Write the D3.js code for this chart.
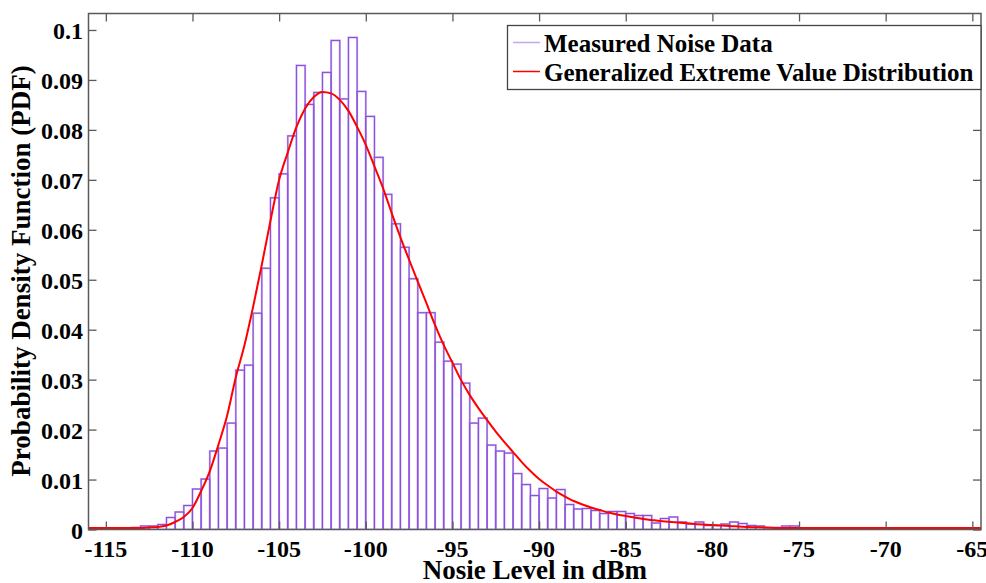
<!DOCTYPE html>
<html>
<head>
<meta charset="utf-8">
<script src="https://cdn.jsdelivr.net/npm/d3@7"></script>
<style>
  body { margin: 0; background: #fff; }
  svg text { font-family: "Liberation Serif", "Times New Roman", serif; font-weight: bold; fill: #000; }
</style>
</head>
<body>
<div id="chartDiv"></div>
<script>
// histogram: bins of 0.5 dB, first bin starts at -114
let binStart = -114;
let binWidth = 0.5;
let binDensity = [
  0.0001, 0.0004, 0.0007, 0.0007, 0.0010, 0.0024, 0.0035, 0.0048, 0.0081, 0.0101,
  0.0157, 0.0163, 0.0213, 0.0319, 0.0329, 0.0433, 0.0523, 0.0664, 0.0712, 0.0788,
  0.0929, 0.0851, 0.0875, 0.0915, 0.0979, 0.0862, 0.0985, 0.0877, 0.0827, 0.0745,
  0.0671, 0.0612, 0.0565, 0.0502, 0.0434, 0.0434, 0.0375, 0.0337, 0.0331, 0.0293,
  0.0213, 0.0223, 0.0169, 0.0157, 0.0153, 0.0112, 0.0090, 0.0068, 0.0082, 0.0063,
  0.0080, 0.0050, 0.0041, 0.0042, 0.0038, 0.0032, 0.0036, 0.0036, 0.0032, 0.0028,
  0.0028, 0.0013, 0.0022, 0.0025, 0.0015, 0.0011, 0.0015, 0.0008, 0.0008, 0.0011,
  0.0015, 0.0012, 0.0008, 0.0007, 0.0004, 0.0004, 0.0007, 0.0007, 0.0001, 0.0001,
  0.0001, 0.0001, 0.0001, 0.0001, 0.0001, 0.0001, 0.0001, 0.0001, 0.0001, 0.0001,
  0.0001, 0.0001, 0.0001, 0.0001, 0.0001, 0.0001, 0.0001, 0.0001
];

// fitted GEV curve
let gevX = [
  -116, -113, -112.5, -112, -111.5, -111, -110.5, -110, -109.5, -109,
  -108.5, -108, -107.5, -107, -106.5, -106, -105.5, -105, -104.5, -104,
  -103.5, -103, -102.5, -102, -101.5, -101, -100.5, -100, -99.5, -99,
  -98.5, -98, -97.5, -97, -96.5, -96, -95.5, -95, -94.5, -94,
  -93.5, -93, -92.5, -92, -91.5, -91, -90.5, -90, -89.5, -89,
  -88.5, -88, -87.5, -87, -86.5, -86, -85.5, -85, -84.5, -84,
  -83.5, -83, -82, -81, -80, -79, -78, -77, -76, -64.5
];
let gevY = [
  0.0003, 0.0003, 0.0004, 0.0005, 0.0008, 0.0015, 0.0025, 0.0043, 0.0077, 0.0117,
  0.0170, 0.0228, 0.0305, 0.0369, 0.0446, 0.0530, 0.0618, 0.0700, 0.0755, 0.0806,
  0.0843, 0.0866, 0.0876, 0.0873, 0.0860, 0.0838, 0.0806, 0.0770, 0.0727, 0.0683,
  0.0633, 0.0585, 0.0540, 0.0496, 0.0453, 0.0409, 0.0369, 0.0334, 0.0299, 0.0269,
  0.0243, 0.0219, 0.0196, 0.0175, 0.0155, 0.0135, 0.0117, 0.0101, 0.0088, 0.0076,
  0.0066, 0.0057, 0.0050, 0.0044, 0.0039, 0.0034, 0.0030, 0.0027, 0.0024, 0.0021,
  0.0019, 0.0017, 0.0014, 0.0011, 0.0009, 0.0007, 0.0005, 0.0004, 0.0003, 0.0003
];

let xTicks = [-115, -110, -105, -100, -95, -90, -85, -80, -75, -70, -65];
let yTicks = [0, 0.01, 0.02, 0.03, 0.04, 0.05, 0.06, 0.07, 0.08, 0.09, 0.1];
let legendLabels = ["Measured Noise Data", "Generalized Extreme Value Distribution"];

let W = 986, H = 583;
let plotLeft = 88.5, plotRight = 981, plotTop = 13.5, plotBottom = 529.5;

let svg = d3.select("#chartDiv").append("svg")
  .attr("width", W).attr("height", H);

let xScale = d3.scaleLinear().domain([-116, -64.5]).range([plotLeft, plotRight]);
let yScale = d3.scaleLinear().domain([0, 0.1033]).range([plotBottom, plotTop]);

svg.append("clipPath").attr("id", "plotClip")
  .append("rect")
  .attr("x", plotLeft).attr("y", plotTop)
  .attr("width", plotRight - plotLeft).attr("height", plotBottom - plotTop);

let plotG = svg.append("g").attr("clip-path", "url(#plotClip)");

// bars
let bins = binDensity.map(function(d, i) {
  return { x0: binStart + i * binWidth, x1: binStart + (i + 1) * binWidth, y: d };
});

plotG.selectAll(".barLight")
  .data(bins)
  .enter().append("rect")
  .attr("class", "barLight")
  .attr("x", function(d) { return xScale(d.x0); })
  .attr("y", function(d) { return yScale(d.y); })
  .attr("width", function(d) { return xScale(d.x1) - xScale(d.x0); })
  .attr("height", function(d) { return yScale(0) - yScale(d.y); })
  .attr("fill", "#fff")
  .attr("stroke", "#c4a6ee")
  .attr("stroke-width", 2);

plotG.selectAll(".barDark")
  .data(bins)
  .enter().append("rect")
  .attr("class", "barDark")
  .attr("x", function(d) { return xScale(d.x0); })
  .attr("y", function(d) { return yScale(d.y); })
  .attr("width", function(d) { return xScale(d.x1) - xScale(d.x0); })
  .attr("height", function(d) { return yScale(0) - yScale(d.y); })
  .attr("fill", "none")
  .attr("stroke", "#8a4fdc")
  .attr("stroke-width", 1);

// GEV curve
let gevLine = d3.line()
  .x(function(d) { return xScale(d[0]); })
  .y(function(d) { return yScale(d[1]); })
  .curve(d3.curveMonotoneX);

plotG.append("path")
  .datum(gevX.map(function(x, i) { return [x, gevY[i]]; }))
  .attr("d", gevLine)
  .attr("fill", "none")
  .attr("stroke", "#ff0000")
  .attr("stroke-width", 2);

// axes box + inward ticks on all four sides
let axisColor = "#5a5a5a";
let tickLen = 8;

let xAxisBottom = d3.axisBottom(xScale).tickValues(xTicks).tickSizeInner(-tickLen).tickSizeOuter(0).tickFormat("");
let xAxisTop = d3.axisTop(xScale).tickValues(xTicks).tickSizeInner(-tickLen).tickSizeOuter(0).tickFormat("");
let yAxisLeft = d3.axisLeft(yScale).tickValues(yTicks).tickSizeInner(-tickLen).tickSizeOuter(0).tickFormat("");
let yAxisRight = d3.axisRight(yScale).tickValues(yTicks).tickSizeInner(-tickLen).tickSizeOuter(0).tickFormat("");

let axes = [
  [xAxisBottom, "translate(0," + plotBottom + ")"],
  [xAxisTop, "translate(0," + plotTop + ")"],
  [yAxisLeft, "translate(" + plotLeft + ",0)"],
  [yAxisRight, "translate(" + plotRight + ",0)"]
];
axes.forEach(function(a) {
  let g = svg.append("g").attr("transform", a[1]).call(a[0]);
  g.select(".domain").remove();
  g.selectAll("line").attr("stroke", axisColor).attr("stroke-width", 1.3);
});

svg.append("rect")
  .attr("x", plotLeft).attr("y", plotTop)
  .attr("width", plotRight - plotLeft).attr("height", plotBottom - plotTop)
  .attr("fill", "none")
  .attr("stroke", axisColor)
  .attr("stroke-width", 1.5);

// tick labels
svg.selectAll(".xLabel")
  .data(xTicks)
  .enter().append("text")
  .attr("class", "xLabel")
  .attr("x", function(d) { return xScale(d); })
  .attr("y", 556.5)
  .attr("text-anchor", "middle")
  .style("font-size", "24px")
  .text(function(d) { return d; });

svg.selectAll(".yLabel")
  .data(yTicks)
  .enter().append("text")
  .attr("class", "yLabel")
  .attr("x", 83)
  .attr("y", function(d) { return yScale(d) + 9; })
  .attr("text-anchor", "end")
  .style("font-size", "24px")
  .text(function(d) { return d; });

// axis titles
svg.append("text")
  .attr("x", 535)
  .attr("y", 579)
  .attr("text-anchor", "middle")
  .style("font-size", "27px")
  .text("Nosie Level in dBm");

svg.append("text")
  .attr("transform", "translate(30," + 271 + ") rotate(-90)")
  .attr("text-anchor", "middle")
  .style("font-size", "27px")
  .text("Probability Density Function (PDF)");

// legend
let legendG = svg.append("g");
legendG.append("rect")
  .attr("x", 507.5).attr("y", 25.5)
  .attr("width", 473.5).attr("height", 64)
  .attr("fill", "#fff")
  .attr("stroke", "#444")
  .attr("stroke-width", 1.3);

let legendColors = ["#c4a6ee", "#ff0000"];
let legendRowY = [42.5, 71.5];

legendLabels.forEach(function(label, i) {
  legendG.append("line")
    .attr("x1", 513).attr("x2", 540)
    .attr("y1", legendRowY[i]).attr("y2", legendRowY[i])
    .attr("stroke", legendColors[i])
    .attr("stroke-width", 1.5);
  legendG.append("text")
    .attr("x", 544)
    .attr("y", legendRowY[i] + 9)
    .style("font-size", "25px")
    .text(label);
});
</script>
</body>
</html>
